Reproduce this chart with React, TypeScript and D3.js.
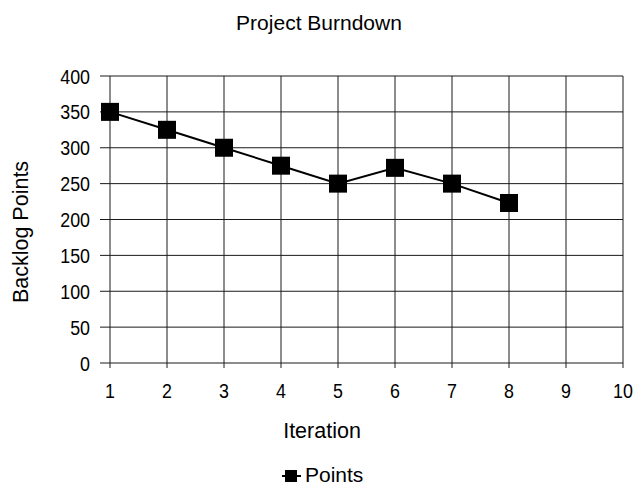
import React, { useEffect, useRef } from 'react';
import * as d3 from 'd3';

// iterations and remaining backlog points per iteration
const iterations: number[] = [1, 2, 3, 4, 5, 6, 7, 8];
const backlogPoints: number[] = [350, 325, 300, 275, 250, 272, 250, 223];
const xTicks: number[] = [1, 2, 3, 4, 5, 6, 7, 8, 9, 10];
const yTicks: number[] = [0, 50, 100, 150, 200, 250, 300, 350, 400];

const FONT = '"Liberation Sans", Arial, sans-serif';
// tick digits in the original are a narrow face, squeeze them a bit
const TICK_SQUEEZE = 0.85;

const App: React.FC = () => {
  const svgRef = useRef<SVGSVGElement>(null);

  useEffect(() => {
    if (!svgRef.current) return;
    const svg = d3.select(svgRef.current);
    svg.selectAll('*').remove();

    const width = 635;
    const height = 485;
    const margin = { top: 76, right: 12, bottom: 122, left: 110 };
    const chartWidth = width - margin.left - margin.right;
    const chartHeight = height - margin.top - margin.bottom;

    const g = svg
      .append('g')
      .attr('transform', `translate(${margin.left}, ${margin.top})`);

    const x = d3.scaleLinear().domain([1, 10]).range([0, chartWidth]);
    const y = d3.scaleLinear().domain([0, 400]).range([chartHeight, 0]);

    // ### Gridlines (extend past the axes as tick marks)
    g.append('g')
      .selectAll('line')
      .data(yTicks)
      .join('line')
      .attr('x1', -10)
      .attr('x2', chartWidth)
      .attr('y1', d => y(d))
      .attr('y2', d => y(d))
      .attr('stroke', '#1a1a1a')
      .attr('stroke-width', 1);

    g.append('g')
      .selectAll('line')
      .data(xTicks)
      .join('line')
      .attr('x1', d => x(d))
      .attr('x2', d => x(d))
      .attr('y1', 0)
      .attr('y2', chartHeight + 5)
      .attr('stroke', '#1a1a1a')
      .attr('stroke-width', 1);

    // ### Tick labels
    g.append('g')
      .selectAll('text')
      .data(yTicks)
      .join('text')
      .attr('transform', d => `translate(-20, ${y(d) + 7.5}) scale(${TICK_SQUEEZE}, 1)`)
      .attr('text-anchor', 'end')
      .attr('font-family', FONT)
      .attr('font-size', 21)
      .text(d => d);

    g.append('g')
      .selectAll('text')
      .data(xTicks)
      .join('text')
      .attr('transform', d => `translate(${x(d)}, ${chartHeight + 35}) scale(${TICK_SQUEEZE}, 1)`)
      .attr('text-anchor', 'middle')
      .attr('font-family', FONT)
      .attr('font-size', 21)
      .text(d => d);

    // ### Series line and markers
    const data = iterations.map((it, i) => ({ it, v: backlogPoints[i] }));
    const line = d3
      .line<{ it: number; v: number }>()
      .x(d => x(d.it))
      .y(d => y(d.v));

    g.append('path')
      .datum(data)
      .attr('fill', 'none')
      .attr('stroke', '#000')
      .attr('stroke-width', 2)
      .attr('d', line);

    const size = 18;
    g.append('g')
      .selectAll('rect')
      .data(data)
      .join('rect')
      .attr('x', d => x(d.it) - size / 2)
      .attr('y', d => y(d.v) - size / 2)
      .attr('width', size)
      .attr('height', size)
      .attr('fill', '#000');

    // ### Titles
    svg
      .append('text')
      .attr('x', 319)
      .attr('y', 30)
      .attr('text-anchor', 'middle')
      .attr('font-family', FONT)
      .attr('font-size', 21)
      .text('Project Burndown');

    svg
      .append('text')
      .attr('x', 322)
      .attr('y', 438)
      .attr('text-anchor', 'middle')
      .attr('font-family', FONT)
      .attr('font-size', 21.5)
      .text('Iteration');

    svg
      .append('text')
      .attr('transform', `translate(28, 232) rotate(-90)`)
      .attr('text-anchor', 'middle')
      .attr('font-family', FONT)
      .attr('font-size', 21.5)
      .text('Backlog Points');

    // ### Legend
    const legend = svg.append('g').attr('transform', 'translate(291, 476)');
    legend
      .append('line')
      .attr('x1', -9)
      .attr('x2', 10)
      .attr('y1', 0)
      .attr('y2', 0)
      .attr('stroke', '#000')
      .attr('stroke-width', 2);
    legend
      .append('rect')
      .attr('x', -6)
      .attr('y', -6)
      .attr('width', 12)
      .attr('height', 12)
      .attr('fill', '#000');
    legend
      .append('text')
      .attr('x', 14)
      .attr('y', 6)
      .attr('font-family', FONT)
      .attr('font-size', 21)
      .text('Points');
  }, []);

  return (
    <svg
      ref={svgRef}
      width={635}
      height={485}
      style={{ position: 'absolute', left: 0, top: 0, background: '#fff' }}
    />
  );
};

export default App;
